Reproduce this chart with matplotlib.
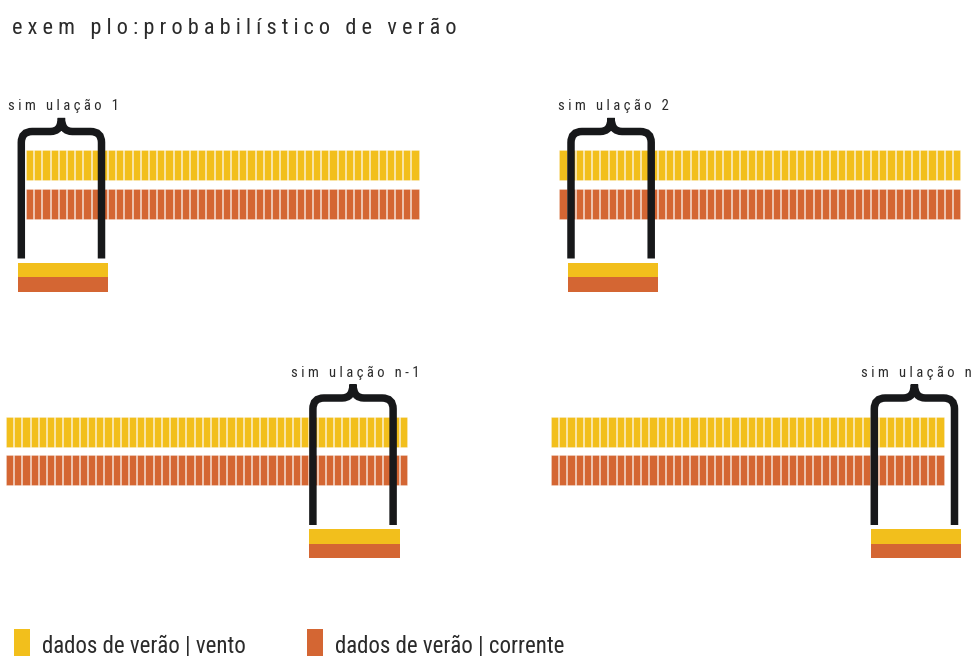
import matplotlib

matplotlib.use("Agg")

import matplotlib.pyplot as plt
from matplotlib import font_manager
from matplotlib.patches import PathPatch
from matplotlib.path import Path

# data
TITLE = "exem plo:probabilístico de verão"
SIM_LABELS = ["sim ulação 1", "sim ulação 2", "sim ulação n-1", "sim ulação n"]
SEGMENTS = [48, 49, 49, 48]          # summer records per strip
WINDOW_START = [-1, 1, 37, 39]       # first record of each simulation window
WINDOW_LEN = 11
LEGEND_LABELS = ["dados de verão | vento", "dados de verão | corrente"]

# layout (pixel units, y grows downward)
PANEL_X0 = [26, 559.3, 6, 551]
PANEL_Y0 = [150, 150, 416.5, 416.5]
STEP = 8.2
ROW_H = 30
ROW_GAP = 8.5
LEGEND_X = [14, 307]

YELLOW = "#F2BF1C"
ORANGE = "#D46633"
BLACK = "#17181A"
TEXT = "#2B2B2B"

# condensed sans if there is one, else plain Liberation Sans with thin spaces
installed = {f.name for f in font_manager.fontManager.ttflist}
narrow = [n for n in ["Roboto Condensed", "Archivo Narrow", "PT Sans Narrow",
                      "Fira Sans Condensed", "Barlow Semi Condensed"]
          if n in installed]
if narrow:
    FONT, SEP, SCALE = [narrow[0], "DejaVu Sans"], " ", 1.0
else:
    FONT, SEP, SCALE = ["Liberation Sans", "DejaVu Sans"], "\u2009", 0.85


def tracked(s):
    return SEP.join(s)


def draw_bracket(ax, xl, xr, yb, yh, yt, r=11, r2=11):
    xc = (xl + xr) / 2
    verts = [
        (xl, yb), (xl, yh + r),
        (xl, yh), (xl + r, yh),
        (xc - r2, yh),
        (xc, yh), (xc, yt),
        (xc, yh), (xc + r2, yh),
        (xr - r, yh),
        (xr, yh), (xr, yh + r),
        (xr, yb),
    ]
    codes = [
        Path.MOVETO, Path.LINETO,
        Path.CURVE3, Path.CURVE3,
        Path.LINETO,
        Path.CURVE3, Path.CURVE3,
        Path.CURVE3, Path.CURVE3,
        Path.LINETO,
        Path.CURVE3, Path.CURVE3,
        Path.LINETO,
    ]
    ax.add_patch(PathPatch(Path(verts, codes), facecolor="none", edgecolor=BLACK,
                           linewidth=5.4, joinstyle="miter", capstyle="butt", zorder=5))


fig = plt.figure(figsize=(9.71, 6.56), dpi=100)
ax = fig.add_axes([0, 0, 1, 1])
ax.set_xlim(0, 971)
ax.set_ylim(656, 0)
ax.axis("off")

ax.text(12, 34, tracked(TITLE), fontsize=16 * SCALE, family=FONT, color=TEXT,
        ha="left", va="baseline")

for i, label in enumerate(SIM_LABELS):
    x0, y0, n = PANEL_X0[i], PANEL_Y0[i], SEGMENTS[i]
    xs = [x0 + k * STEP for k in range(n)]
    for row, color in enumerate([YELLOW, ORANGE]):
        ax.bar(xs, ROW_H, width=STEP - 1.0, bottom=y0 + row * (ROW_H + ROW_GAP),
               align="edge", color=color, edgecolor=(1, 1, 1, 0.3), linewidth=0.5)

    wx = x0 + WINDOW_START[i] * STEP
    ww = WINDOW_LEN * STEP
    ax.bar([wx], [14.5], width=ww, bottom=y0 + 112.5, align="edge", color=YELLOW, linewidth=0)
    ax.bar([wx], [14.5], width=ww, bottom=y0 + 127, align="edge", color=ORANGE, linewidth=0)

    xl, xr = wx + 3.5, wx + ww - 6.5
    draw_bracket(ax, xl, xr, y0 + 108.5, y0 - 18.5, y0 - 32)

    ax.text((xl + xr) / 2 + 2, y0 - 40, tracked(label), fontsize=10.5 * SCALE, family=FONT,
            color=TEXT, ha="center", va="baseline")

for x, label, color in zip(LEGEND_X, LEGEND_LABELS, [YELLOW, ORANGE]):
    ax.bar([x], [30], width=16, bottom=629, align="edge", color=color, linewidth=0)
    ax.text(x + 28, 652, label, fontsize=16.5 * SCALE, family=FONT, color=TEXT,
            ha="left", va="baseline")

fig.savefig("out.png", dpi=100)
plt.close(fig)
